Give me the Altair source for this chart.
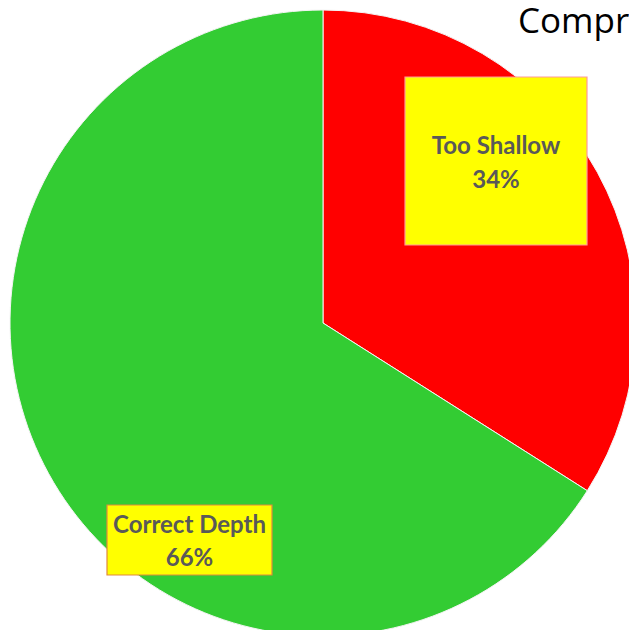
import altair as alt
import pandas as pd

categories = ["Too Shallow", "Correct Depth"]
percents = [34, 66]
colors = ["#FF0000", "#33CC33"]
title_text = "Compression Depth"

df = pd.DataFrame({
    "category": categories,
    "pct": percents,
    "order": list(range(len(categories))),
    "pct_label": [f"{p}%" for p in percents],
})

W, H = 621, 622
CX, CY, R = 315, 315, 313

pie = alt.Chart(df).mark_arc(radius=R, stroke="#F4F4F4", strokeWidth=1).encode(
    theta=alt.Theta("pct:Q", stack=True),
    order=alt.Order("order:Q"),
    color=alt.Color("category:N", scale=alt.Scale(domain=categories, range=colors), legend=None),
    x=alt.value(CX), y=alt.value(CY),
)

# annotation boxes: x1, x2, y1, y2, stroke, line1 y, line2 y (chart pixels)
boxes = {
    "Too Shallow": (397, 579, 69, 237, "#FF9999", 139, 173),
    "Correct Depth": (99, 264, 497, 567, "#E08A3C", 518, 551),
}

layers = [pie]
txt = dict(font="Lato", fontWeight="bold", fontSize=24, color="#595959",
           align="center", baseline="middle")
for cat, (x1, x2, y1, y2, stroke, ly1, ly2) in boxes.items():
    sub = df[df["category"] == cat]
    xc = (x1 + x2) / 2
    layers.append(
        alt.Chart(sub).mark_rect(fill="#FFFF00", stroke=stroke, strokeWidth=1.2).encode(
            x=alt.value(x1), x2=alt.value(x2), y=alt.value(y1), y2=alt.value(y2)
        )
    )
    layers.append(alt.Chart(sub).mark_text(**txt).encode(
        text="category:N", x=alt.value(xc), y=alt.value(ly1)))
    layers.append(alt.Chart(sub).mark_text(**txt).encode(
        text="pct_label:N", x=alt.value(xc), y=alt.value(ly2)))

title = alt.Chart(pd.DataFrame({"t": [title_text]})).mark_text(
    font="Open Sans", fontSize=35, color="#000000", align="left", baseline="alphabetic"
).encode(text="t:N", x=alt.value(510), y=alt.value(25))
layers.append(title)

chart = alt.layer(*layers).properties(
    width=W, height=H, autosize=alt.AutoSizeParams(type="none"), padding=0
).configure_view(stroke=None)

chart.save("out.html", embed_options={"renderer": "svg", "actions": False})
